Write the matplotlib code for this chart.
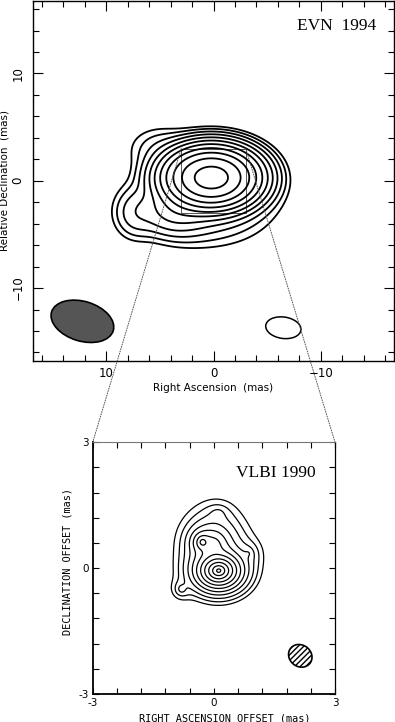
import numpy as np
import matplotlib
matplotlib.use("Agg")
import matplotlib.pyplot as plt
from matplotlib.patches import Ellipse, Rectangle, ConnectionPatch

# ---------------- data ----------------
# EVN 1994 map: gaussian model components (RA, Dec in mas)
evn_x = [0.2, 0.8, 7.3, 5.0, 3.5]
evn_y = [0.3, -2.0, -3.0, 3.0, -2.8]
evn_sx = [1.9, 3.2, 1.1, 1.7, 1.8]
evn_sy = [1.25, 2.0, 1.3, 1.2, 1.2]
evn_amp = [1.0, 0.006, 0.0035, 0.002, 0.012]
evn_levels = [0.0007, 0.0014, 0.0028, 0.0056, 0.0113, 0.0225, 0.045, 0.09, 0.18, 0.36, 0.72]
evn_ticks = [10, 0, -10]
evn_ticklabels = ["10", "0", "\u221210"]

# VLBI 1990 map: exponential-profile components
vlbi_x = [0.12, 0.0, -0.28, -0.8, 0.85, 0.1]
vlbi_y = [-0.06, 0.55, 0.62, -0.5, 0.35, 1.3]
vlbi_sx = [0.14, 0.24, 0.10, 0.12, 0.15, 0.15]
vlbi_sy = [0.11, 0.26, 0.10, 0.12, 0.15, 0.12]
vlbi_amp = [1.0, 0.035, 0.062, 0.004, 0.004, 0.003]
vlbi_levels = [0.00068, 0.00137, 0.0027, 0.0055, 0.0109, 0.0219, 0.0437, 0.0875, 0.175, 0.35, 0.7]
vlbi_ticks = [-3, 0, 3]
vlbi_ticklabels = ["-3", "0", "3"]


def gauss_model(xs, ys, sx, sy, amp, X, Y):
    Z = np.zeros_like(X)
    for x0, y0, a, b, A in zip(xs, ys, sx, sy, amp):
        Z += A * np.exp(-((X - x0) ** 2) / (2 * a * a) - ((Y - y0) ** 2) / (2 * b * b))
    return Z


def exp_model(xs, ys, sx, sy, amp, X, Y):
    Z = np.zeros_like(X)
    for x0, y0, a, b, A in zip(xs, ys, sx, sy, amp):
        Z += A * np.exp(-np.sqrt(((X - x0) / a) ** 2 + ((Y - y0) / b) ** 2))
    return Z


W, H = 395, 722
fig = plt.figure(figsize=(W / 100, H / 100), dpi=100)

# ---------------- top panel ----------------
ax1 = fig.add_axes([33 / W, 1 - 361 / H, 361 / W, 360.5 / H])
g = np.linspace(-17, 17, 500)
X, Y = np.meshgrid(g, g)
Z = gauss_model(evn_x, evn_y, evn_sx, evn_sy, evn_amp, X, Y)
ax1.contour(X, Y, Z, levels=evn_levels, colors="black", linewidths=1.3)
ax1.set_xlim(16.8, -16.8)
ax1.set_ylim(-16.8, 16.8)
ax1.set_xticks(evn_ticks)
ax1.set_xticklabels(evn_ticklabels)
ax1.set_yticks(evn_ticks)
ax1.set_yticklabels(evn_ticklabels, rotation=90, va="center")
ax1.set_xticks(np.arange(-16, 17, 2), minor=True)
ax1.set_yticks(np.arange(-16, 17, 2), minor=True)
ax1.tick_params(which="both", direction="in", top=True, right=True, width=0.8, labelsize=8.5)
ax1.tick_params(which="major", length=7)
ax1.tick_params(which="minor", length=4)
ax1.tick_params(axis="y", pad=6)
ax1.tick_params(axis="x", pad=4)
for s in ax1.spines.values():
    s.set_linewidth(1.0)
ax1.set_xlabel("Right Ascension  (mas)", fontsize=7.5)
ax1.set_ylabel("Relative Declination  (mas)", fontsize=7.5)
ax1.xaxis.set_label_coords(0.5, -0.062)
ax1.yaxis.set_label_coords(-0.066, 0.5)
ax1.text(0.95, 0.93, "EVN  1994", transform=ax1.transAxes, ha="right", va="center",
         fontsize=12.5, family="Liberation Serif")
ax1.add_patch(Ellipse((12.2, -13.1), 6.0, 3.7, angle=17, facecolor="#555555",
                      edgecolor="black", lw=1.2))
ax1.add_patch(Ellipse((-6.5, -13.7), 3.3, 2.0, angle=8, facecolor="none",
                      edgecolor="black", lw=1.1))
ax1.add_patch(Rectangle((-3, -3), 6, 6, facecolor="none", edgecolor="#555555", lw=0.7))

# ---------------- bottom panel ----------------
ax2 = fig.add_axes([92.7 / W, 1 - 694 / H, 242.3 / W, 251.7 / H])
g2 = np.linspace(-3, 3, 700)
X2, Y2 = np.meshgrid(g2, g2)
Z2 = exp_model(vlbi_x, vlbi_y, vlbi_sx, vlbi_sy, vlbi_amp, X2, Y2)
ax2.contour(X2, Y2, Z2, levels=vlbi_levels, colors="black", linewidths=0.9)
ax2.set_xlim(-3, 3)
ax2.set_ylim(-3, 3)
ax2.set_xticks(np.linspace(-3, 3, 11), minor=True)
ax2.set_yticks(np.linspace(-3, 3, 11), minor=True)
ax2.set_xticks(vlbi_ticks)
ax2.set_xticklabels(vlbi_ticklabels)
ax2.set_yticks(vlbi_ticks)
ax2.set_yticklabels(vlbi_ticklabels)
ax2.tick_params(which="both", direction="in", top=True, right=True, length=4, width=0.8,
                labelsize=7.5, pad=3)
ax2.spines["left"].set_linewidth(1.3)
ax2.spines["bottom"].set_linewidth(1.3)
ax2.spines["top"].set_linewidth(0.8)
ax2.spines["top"].set_color("#777777")
ax2.spines["right"].set_linewidth(0.9)
ax2.set_xlabel("RIGHT ASCENSION OFFSET (mas)", fontsize=7.4, family="DejaVu Sans Mono")
ax2.set_ylabel("DECLINATION OFFSET (mas)", fontsize=7.4, family="DejaVu Sans Mono")
ax2.xaxis.set_label_coords(0.545, -0.076)
ax2.yaxis.set_label_coords(-0.085, 0.526)
ax2.text(0.92, 0.88, "VLBI 1990", transform=ax2.transAxes, ha="right", va="center",
         fontsize=12.5, family="Liberation Serif")
ax2.add_patch(Ellipse((2.14, -2.09), 0.6, 0.52, angle=-30, facecolor="white",
                      edgecolor="black", lw=1.2, hatch="//////"))

# zoom connector lines
for xa, xb in [(3, 0), (-3, 1)]:
    con = ConnectionPatch(xyA=(xa, 3), coordsA=ax1.transData, xyB=(xb, 1),
                          coordsB=ax2.transAxes, linestyle=(0, (1, 1.5)), color="#555555",
                          lw=0.7)
    fig.add_artist(con)

fig.savefig("out.png", dpi=100)
